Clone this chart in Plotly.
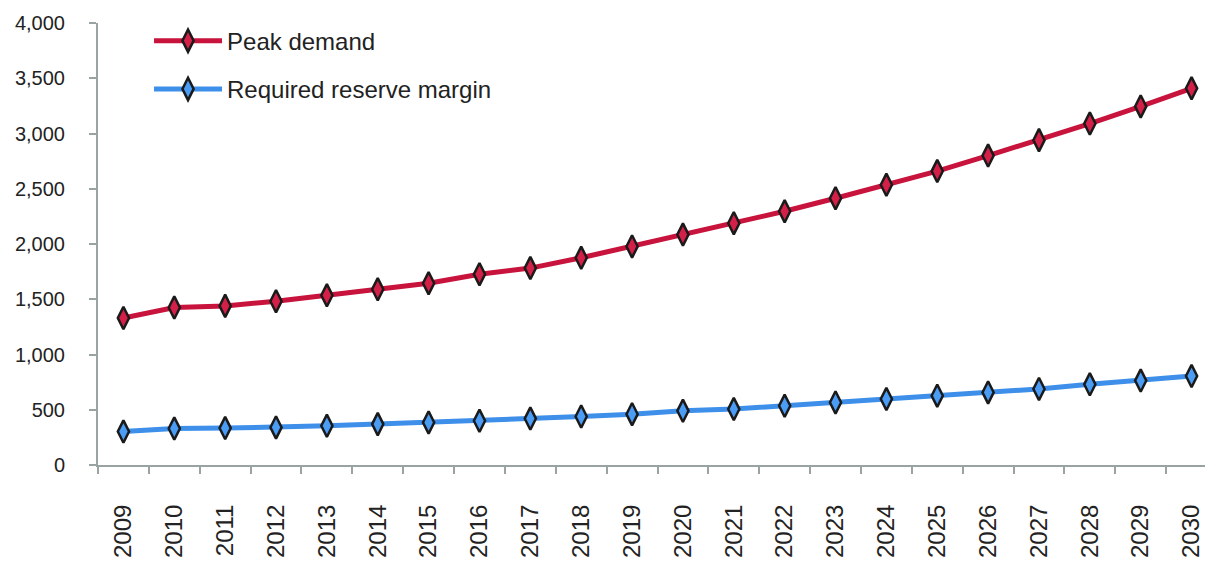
import plotly.graph_objects as go

years = [str(y) for y in range(2009, 2031)]
peak_demand = [1330, 1425, 1440, 1482, 1536, 1590, 1645, 1727, 1782, 1875, 1978, 2085,
               2188, 2296, 2414, 2536, 2660, 2800, 2940, 3090, 3245, 3409]
reserve_margin = [303, 330, 334, 340, 355, 370, 385, 400, 420, 439, 460, 490,
                  506, 536, 566, 597, 627, 657, 688, 730, 764, 805]

fig = go.Figure()
fig.add_trace(go.Scatter(
    x=years, y=peak_demand, name="Peak demand", mode="lines+markers",
    legendgroup="a",
    line=dict(color="#C8133D", width=5),
    marker=dict(symbol="diamond-tall", size=16, color="#D42048",
                line=dict(color="#1a1a1a", width=2.5)),
))
fig.add_trace(go.Scatter(
    x=years, y=reserve_margin, name="Required reserve margin", mode="lines+markers",
    legendgroup="b",
    line=dict(color="#3D8FEA", width=5),
    marker=dict(symbol="diamond-tall", size=16, color="#4A9CF5",
                line=dict(color="#1a1a1a", width=2.5)),
))

fig.update_layout(
    width=1213, height=563,
    margin=dict(l=90, r=4, t=15, b=106),
    paper_bgcolor="white", plot_bgcolor="white",
    font=dict(family="Liberation Sans, Arial, sans-serif", color="#222", size=20),
    showlegend=True,
    legend=dict(x=0.0456, y=1.01, xanchor="left", yanchor="top",
                font=dict(size=24, color="#222"), bgcolor="rgba(0,0,0,0)",
                itemwidth=68, tracegroupgap=14),
)
fig.update_xaxes(
    type="category", range=[-0.5, 21.5], tickangle=-90,
    showline=True, linecolor="#9aa3a3", linewidth=2,
    ticks="outside", ticklen=7, tickcolor="#9aa3a3", tickwidth=2,
    tickson="boundaries", showgrid=False, zeroline=False,
    tickfont=dict(size=24, color="#222"), ticklabelstandoff=28,
)
fig.update_yaxes(
    range=[0, 4000], dtick=500, tickformat=",",
    showline=True, linecolor="#9aa3a3", linewidth=2,
    ticks="outside", ticklen=7, tickcolor="#9aa3a3", tickwidth=2,
    showgrid=False, zeroline=False,
    tickfont=dict(size=20, color="#222"), ticklabelstandoff=20,
)

fig.write_html("out.html")
